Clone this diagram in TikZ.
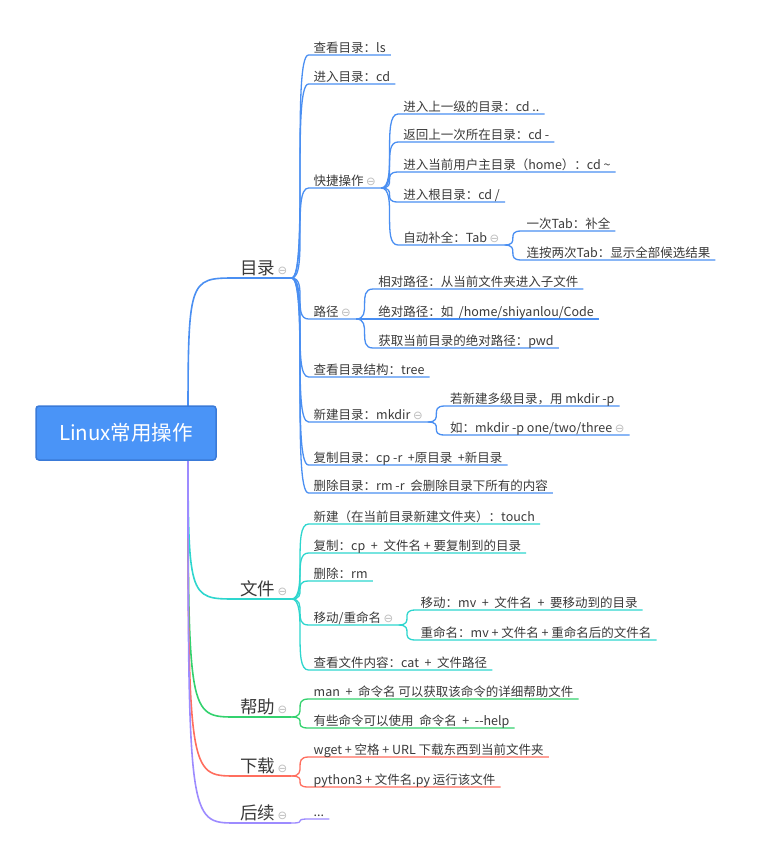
\documentclass[tikz,border=0pt]{standalone}
\usepackage{fontspec}
\setmainfont{Noto Sans CJK SC}
\newfontfamily\foldfont{DejaVu Sans}
\usepackage{xcolor}
\usepackage{tikz}
\usetikzlibrary{calc}
\usetikzlibrary{backgrounds}

\definecolor{dirblue}{HTML}{4A8FF2}
\definecolor{fileteal}{HTML}{2ED6CE}
\definecolor{helpgreen}{HTML}{33D26E}
\definecolor{getred}{HTML}{FF6E5E}
\definecolor{nextpurple}{HTML}{9D8BFF}
\definecolor{rootfill}{HTML}{4A94F7}
\definecolor{rootline}{HTML}{3A7AD8}
\definecolor{foldgray}{HTML}{BDBDBD}
\definecolor{inkgray}{HTML}{3A3A3A}

\newcommand{\fold}{\hspace{2.5pt}{\foldfont\fontsize{11.5}{11}\selectfont\color{foldgray}⊖}}

\tikzset{
    twig/.style={to path={.. controls (\tikztotarget |- \tikztostart) and (\tikztostart |- \tikztotarget) .. (\tikztotarget) \tikztonodes}},
    trunk/.style={to path={.. controls (\tikztostart |- \tikztotarget) .. (\tikztotarget) \tikztonodes}}
}

\begin{document}
\begin{tikzpicture}[x=1pt, y=-1pt,
            rootbox/.style={draw=rootline, fill=rootfill, line width=1.5pt, rounded corners=3pt,
            minimum width=180pt, minimum height=54pt, text=white, font=\fontsize{20.5}{24}\selectfont},
            topic/.style={anchor=south west, inner xsep=4pt, inner ysep=3.5pt, text depth=0pt,
            text=inkgray, font=\fontsize{17.5}{20}\selectfont},
            leaf/.style={anchor=south west, xshift=17pt, inner xsep=5pt, inner ysep=2.5pt, text depth=0pt,
            text=inkgray, font=\fontsize{12.5}{14}\selectfont},
            thickline/.style={line width=1.6pt},
            thinline/.style={line width=1.3pt}]
            \useasboundingbox (0,0) rectangle (761,846);

            \node[rootbox] (linux) at (126,433) {Linux常用操作};
            \coordinate (hub) at (188,433);

            % main topics
            \node[topic] (ml) at (236,278) {目录\fold};
            \node[topic] (wj) at (236,599) {文件\fold};
            \node[topic] (bz) at (236,717) {帮助\fold};
            \node[topic] (xz) at (236,776) {下载\fold};
            \node[topic] (hx) at (236,823) {后续\fold};

            % 目录
            \node[leaf] (ls) at (ml.south east |- 0,55) {查看目录：ls};
            \node[leaf] (cd) at (ml.south east |- 0,84) {进入目录：cd};
            \node[leaf] (kj) at (ml.south east |- 0,188) {快捷操作\fold};
            \node[leaf] (lj) at (ml.south east |- 0,319) {路径\fold};
            \node[leaf] (tree) at (ml.south east |- 0,377) {查看目录结构：tree};
            \node[leaf] (mk) at (ml.south east |- 0,422) {新建目录：mkdir\fold};
            \node[leaf] (cpr) at (ml.south east |- 0,465) {复制目录：cp -r\ \ +原目录\ \ +新目录};
            \node[leaf] (rmr) at (ml.south east |- 0,493) {删除目录：rm -r\ \ 会删除目录下所有的内容};

            \node[leaf] (up) at (kj.south east |- 0,114) {进入上一级的目录：cd ..};
            \node[leaf] (back) at (kj.south east |- 0,142) {返回上一次所在目录：cd -};
            \node[leaf] (home) at (kj.south east |- 0,172) {进入当前用户主目录（home）：cd \textasciitilde};
            \node[leaf] (slash) at (kj.south east |- 0,202) {进入根目录：cd /};
            \node[leaf] (tab) at (kj.south east |- 0,245) {自动补全：Tab\fold};
            \node[leaf] (tabone) at (tab.south east |- 0,231) {一次Tab：补全};
            \node[leaf] (tabtwo) at (tab.south east |- 0,260) {连按两次Tab：显示全部候选结果};

            \node[leaf] (rel) at (lj.south east |- 0,289) {相对路径：从当前文件夹进入子文件};
            \node[leaf] (abs) at (lj.south east |- 0,319) {绝对路径：如\ \ /home/shiyanlou/Code};
            \node[leaf] (pwd) at (lj.south east |- 0,348) {获取当前目录的绝对路径：pwd};

            \node[leaf] (mkp) at (mk.south east |- 0,406) {若新建多级目录，用 mkdir -p};
            \node[leaf] (mkx) at (mk.south east |- 0,435) {如：mkdir -p one/two/three\fold};

            % 文件
            \node[leaf] (touch) at (wj.south east |- 0,524) {新建（在当前目录新建文件夹）：touch};
            \node[leaf] (cpf) at (wj.south east |- 0,553) {复制：cp\ \ +\ \ 文件名 + 要复制到的目录};
            \node[leaf] (rmf) at (wj.south east |- 0,581) {删除：rm};
            \node[leaf] (mv) at (wj.south east |- 0,625) {移动/重命名\fold};
            \node[leaf] (cat) at (wj.south east |- 0,670) {查看文件内容：cat\ \ +\ \ 文件路径};
            \node[leaf] (mvm) at (mv.south east |- 0,610) {移动：mv\ \ +\ \ 文件名\ \ +\ \ 要移动到的目录};
            \node[leaf] (mvr) at (mv.south east |- 0,640) {重命名：mv + 文件名 + 重命名后的文件名};

            % 帮助, 下载, 后续
            \node[leaf] (man) at (bz.south east |- 0,699) {man\ \ +\ \ 命令名 可以获取该命令的详细帮助文件};
            \node[leaf] (help) at (bz.south east |- 0,728) {有些命令可以使用\ \ 命令名\ \ +\ \ {-}{-}help};
            \node[leaf] (wget) at (xz.south east |- 0,757) {wget + 空格 + URL 下载东西到当前文件夹};
            \node[leaf] (py) at (xz.south east |- 0,787) {python3 + 文件名.py 运行该文件};
            \node[leaf] (dots) at (hx.south east |- 0,819) {...};

            \begin{scope}[on background layer]
            \fill[white] (0,0) rectangle (761,846);
            \draw[dirblue, thickline] (hub) to[trunk] (ml.south west) -- (ml.south east);
            \draw[fileteal, thickline] (hub) to[trunk] (wj.south west) -- (wj.south east);
            \draw[helpgreen, thickline] (hub) to[trunk] (bz.south west) -- (bz.south east);
            \draw[getred, thickline] (hub) to[trunk] (xz.south west) -- (xz.south east);
            \draw[nextpurple, thickline] (hub) to[trunk] (hx.south west) -- (hx.south east);

            \foreach \leaf in {ls, cd, kj, lj, tree, mk, cpr, rmr}
                \draw[dirblue, thinline] (ml.south east) to[twig] (\leaf.south west) -- (\leaf.south east);
            \foreach \leaf in {up, back, home, slash, tab}
                \draw[dirblue, thinline] (kj.south east) to[twig] (\leaf.south west) -- (\leaf.south east);
            \foreach \leaf in {tabone, tabtwo}
                \draw[dirblue, thinline] (tab.south east) to[twig] (\leaf.south west) -- (\leaf.south east);
            \foreach \leaf in {rel, abs, pwd}
                \draw[dirblue, thinline] (lj.south east) to[twig] (\leaf.south west) -- (\leaf.south east);
            \foreach \leaf in {mkp, mkx}
                \draw[dirblue, thinline] (mk.south east) to[twig] (\leaf.south west) -- (\leaf.south east);
            \foreach \leaf in {touch, cpf, rmf, mv, cat}
                \draw[fileteal, thinline] (wj.south east) to[twig] (\leaf.south west) -- (\leaf.south east);
            \foreach \leaf in {mvm, mvr}
                \draw[fileteal, thinline] (mv.south east) to[twig] (\leaf.south west) -- (\leaf.south east);
            \foreach \leaf in {man, help}
                \draw[helpgreen, thinline] (bz.south east) to[twig] (\leaf.south west) -- (\leaf.south east);
            \foreach \leaf in {wget, py}
                \draw[getred, thinline] (xz.south east) to[twig] (\leaf.south west) -- (\leaf.south east);
            \draw[nextpurple, thinline] (hx.south east) to[twig] (dots.south west) -- (dots.south east);
            \end{scope}
        \end{tikzpicture}
\end{document}
